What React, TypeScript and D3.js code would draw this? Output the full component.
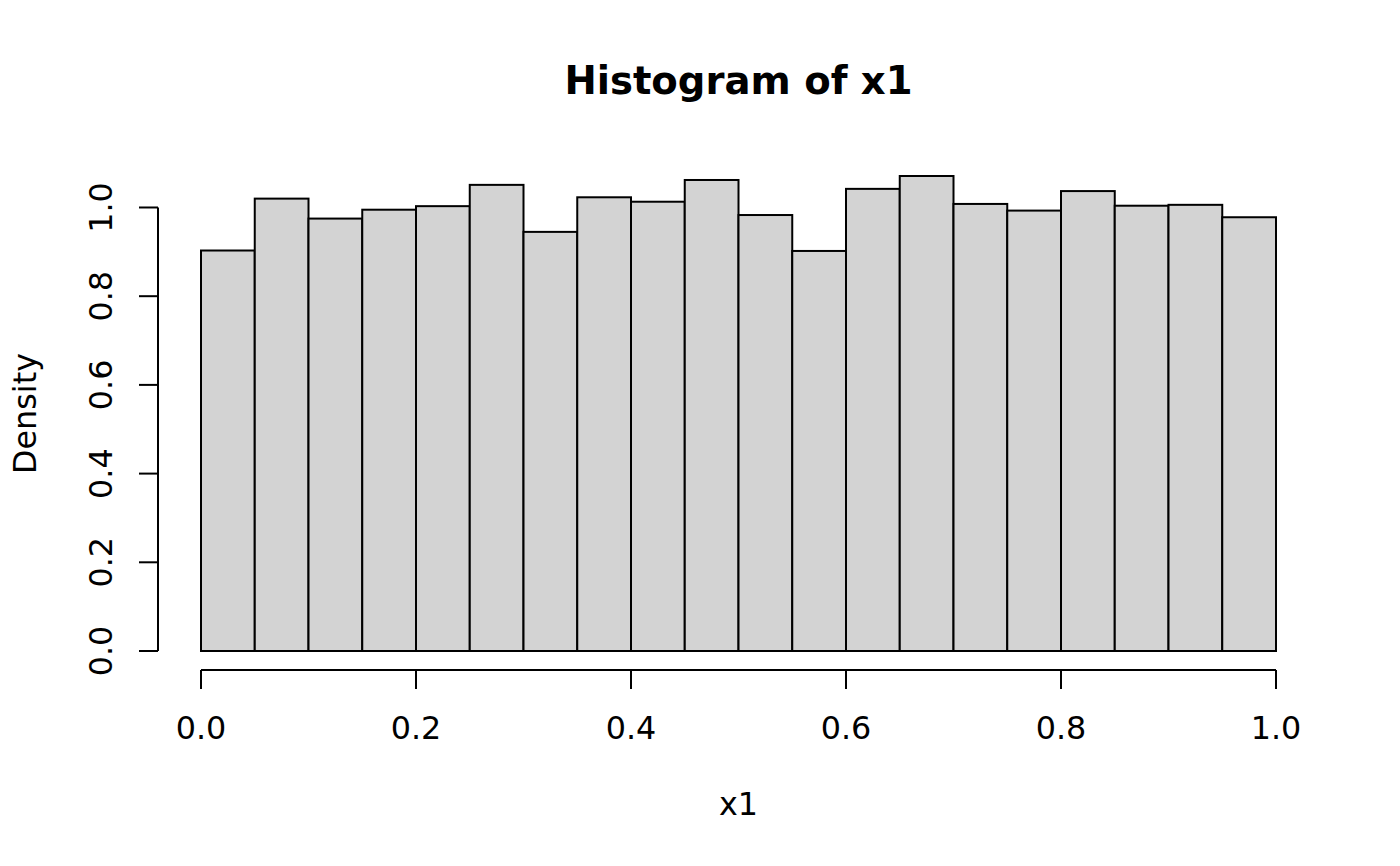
import React from "react";
import * as d3 from "d3";

const binEdges = [0, 0.05, 0.1, 0.15, 0.2, 0.25, 0.3, 0.35, 0.4, 0.45, 0.5, 0.55, 0.6, 0.65, 0.7, 0.75, 0.8, 0.85, 0.9, 0.95, 1.0];
const densities = [0.903, 1.020, 0.975, 0.995, 1.003, 1.051, 0.945, 1.023, 1.013, 1.062, 0.983, 0.902, 1.042, 1.071, 1.008, 0.993, 1.037, 1.004, 1.006, 0.978];
const xTicks = [0, 0.2, 0.4, 0.6, 0.8, 1.0];
const yTicks = [0, 0.2, 0.4, 0.6, 0.8, 1.0];
const title = "Histogram of x1";
const xLabel = "x1";
const yLabel = "Density";

const W = 1400;
const H = 866;
const font = "'DejaVu Sans', sans-serif";

export default function App() {
  const x = d3.scaleLinear().domain([-0.04, 1.04]).range([158, 1319]);
  const yMax = d3.max(densities) as number;
  const y = d3.scaleLinear().domain([-0.04 * yMax, 1.04 * yMax]).range([670, 157]);
  const fmt = d3.format(".1f");
  const bars = densities.map((d, i) => ({ x0: binEdges[i], x1: binEdges[i + 1], d }));
  const axisY = 670;
  const axisX = 158;
  return (
    <svg width={W} height={H} style={{ position: "absolute", left: 0, top: 0, background: "#fff" }} fontFamily={font}>
      <rect x={0} y={0} width={W} height={H} fill="#fff" />
      {bars.map((b, i) => (
        <rect
          key={i}
          x={x(b.x0)}
          y={y(b.d)}
          width={x(b.x1) - x(b.x0)}
          height={y(0) - y(b.d)}
          fill="#d3d3d3"
          stroke="#000"
          strokeWidth={2}
        />
      ))}
      {/* x axis */}
      <line x1={x(xTicks[0])} x2={x(xTicks[xTicks.length - 1])} y1={axisY} y2={axisY} stroke="#000" strokeWidth={2} />
      {xTicks.map((t) => (
        <g key={t}>
          <line x1={x(t)} x2={x(t)} y1={axisY} y2={axisY + 19} stroke="#000" strokeWidth={2} />
          <text x={x(t)} y={738.5} textAnchor="middle" fontSize={31.8} fill="#000">{fmt(t)}</text>
        </g>
      ))}
      {/* y axis */}
      <line x1={axisX} x2={axisX} y1={y(yTicks[0])} y2={y(yTicks[yTicks.length - 1])} stroke="#000" strokeWidth={2} />
      {yTicks.map((t) => (
        <g key={t}>
          <line x1={axisX} x2={axisX - 19} y1={y(t)} y2={y(t)} stroke="#000" strokeWidth={2} />
          <text transform={`translate(112,${y(t)}) rotate(-90)`} textAnchor="middle" fontSize={31.8} fill="#000">{fmt(t)}</text>
        </g>
      ))}
      <text x={(158 + 1319) / 2} y={93.5} textAnchor="middle" fontSize={38.6} fontWeight="bold" fill="#000">{title}</text>
      <text x={(158 + 1319) / 2} y={815} textAnchor="middle" fontSize={31.8} fill="#000">{xLabel}</text>
      <text transform={`translate(36,${(157 + 670) / 2}) rotate(-90)`} textAnchor="middle" fontSize={31.8} fill="#000">{yLabel}</text>
    </svg>
  );
}
